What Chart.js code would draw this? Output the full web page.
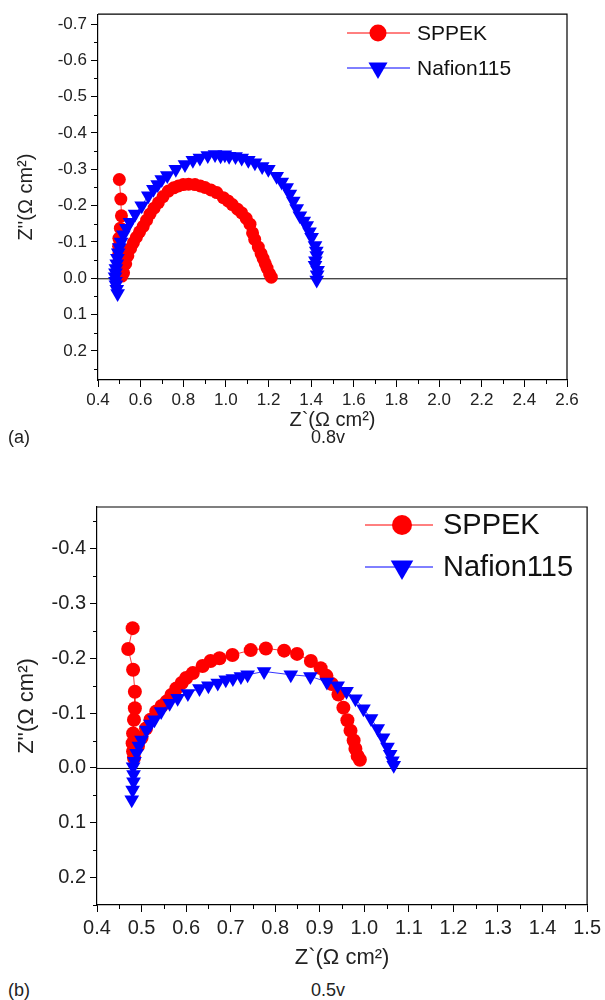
<!DOCTYPE html>
<html><head><meta charset="utf-8">
<script src="https://cdn.jsdelivr.net/npm/chart.js@4.4.0/dist/chart.umd.min.js"></script>
<style>
body{margin:0;width:605px;height:1000px;background:#fff;position:relative;overflow:hidden;font-family:"Liberation Sans",Arial,sans-serif;}
#wa{position:absolute;left:0;top:0;width:605px;height:432px;}
#wb{position:absolute;left:0;top:490px;width:605px;height:490px;}
.lbl{position:absolute;font-size:18px;color:#222;line-height:20px;}
</style></head><body>
<div id="wa"><canvas id="ca" width="605" height="432"></canvas></div>
<div id="wb"><canvas id="cb" width="605" height="490"></canvas></div>
<div class="lbl" style="left:8px;top:427px">(a)</div>
<div class="lbl" style="left:311px;top:427px">0.8v</div>
<div class="lbl" style="left:8px;top:980px">(b)</div>
<div class="lbl" style="left:311px;top:980px">0.5v</div>
<script>
// ---------- DATA ----------
const seriesNames = ["SPPEK", "Nafion115"];

// (a) 0.8v
const sppekA_x = [0.500,0.507,0.510,0.505,0.498,0.497,0.498,0.500,0.503,0.507,0.512,
  0.520,0.530,0.540,0.553,0.566,0.580,0.595,0.612,0.628,0.644,0.663,0.683,0.705,0.730,0.755,0.777,0.800,0.825,0.855,0.880,0.902,0.930,0.957,0.988,1.010,1.030,1.055,1.074,1.095,1.113,1.125,1.135,1.152,1.165,1.175,1.185,1.193,1.205,1.213];
const sppekA_y = [-0.272,-0.218,-0.172,-0.138,-0.110,-0.088,-0.068,-0.050,-0.033,-0.018,-0.006,
  -0.015,-0.040,-0.062,-0.082,-0.098,-0.113,-0.128,-0.143,-0.160,-0.177,-0.193,-0.208,-0.225,-0.240,-0.249,-0.254,-0.258,-0.259,-0.258,-0.254,-0.250,-0.243,-0.236,-0.222,-0.213,-0.203,-0.190,-0.180,-0.165,-0.149,-0.125,-0.107,-0.086,-0.068,-0.054,-0.040,-0.028,-0.012,-0.003];
const nafionA_x = [0.492,0.488,0.484,0.482,0.480,0.482,0.484,0.488,0.491,0.495,0.500,0.508,0.519,0.533,0.550,0.574,0.605,0.636,0.660,0.680,0.699,0.725,0.765,0.808,0.845,0.878,0.915,0.949,0.975,0.995,1.015,1.045,1.074,1.105,1.136,1.170,1.199,1.238,1.262,1.285,1.300,1.316,1.332,1.347,1.365,1.379,1.392,1.402,1.418,1.424,1.426,1.420,1.418,1.430,1.428,1.426];
const nafionA_y = [0.042,0.030,0.018,0.008,-0.004,-0.015,-0.027,-0.040,-0.055,-0.070,-0.085,-0.100,-0.120,-0.138,-0.154,-0.177,-0.200,-0.227,-0.245,-0.258,-0.272,-0.283,-0.300,-0.313,-0.325,-0.331,-0.338,-0.341,-0.337,-0.340,-0.336,-0.335,-0.331,-0.325,-0.318,-0.308,-0.300,-0.281,-0.265,-0.250,-0.232,-0.213,-0.192,-0.172,-0.158,-0.145,-0.128,-0.113,-0.090,-0.075,-0.063,-0.048,-0.036,-0.022,-0.010,0.005];
const xTicksA = [0.4,0.6,0.8,1.0,1.2,1.4,1.6,1.8,2.0,2.2,2.4,2.6];
const yTicksA = [-0.7,-0.6,-0.5,-0.4,-0.3,-0.2,-0.1,0.0,0.1,0.2];

// (b) 0.5v
const sppekB_x = [0.480,0.470,0.481,0.485,0.485,0.483,0.481,0.480,0.481,0.483,
  0.492,0.500,0.510,0.520,0.533,0.545,0.556,0.567,0.578,0.590,0.600,0.615,0.637,0.655,0.675,0.704,0.745,0.779,0.820,0.849,0.880,0.902,0.915,0.927,0.942,0.953,0.962,0.969,0.976,0.980,0.985,0.990];
const sppekB_y = [-0.255,-0.217,-0.179,-0.139,-0.109,-0.088,-0.063,-0.045,-0.030,-0.018,
  -0.040,-0.055,-0.072,-0.088,-0.103,-0.113,-0.121,-0.133,-0.145,-0.155,-0.164,-0.173,-0.186,-0.195,-0.200,-0.206,-0.215,-0.218,-0.214,-0.208,-0.195,-0.182,-0.168,-0.153,-0.134,-0.110,-0.087,-0.068,-0.050,-0.035,-0.022,-0.015];
const nafionB_x = [0.478,0.480,0.482,0.482,0.481,0.484,0.489,0.494,0.500,0.511,0.520,0.529,0.544,0.563,0.581,0.604,0.630,0.650,0.671,0.689,0.705,0.723,0.738,0.775,0.835,0.879,0.916,0.940,0.960,0.980,0.998,1.015,1.030,1.042,1.052,1.058,1.063,1.066];
const nafionB_y = [0.058,0.040,0.025,0.012,-0.002,-0.012,-0.027,-0.040,-0.051,-0.069,-0.080,-0.088,-0.103,-0.118,-0.127,-0.136,-0.145,-0.150,-0.155,-0.161,-0.163,-0.167,-0.170,-0.176,-0.170,-0.167,-0.157,-0.150,-0.140,-0.126,-0.108,-0.090,-0.072,-0.055,-0.038,-0.025,-0.013,-0.005];
const xTicksB = [0.4,0.5,0.6,0.7,0.8,0.9,1.0,1.1,1.2,1.3,1.4,1.5];
const yTicksB = [-0.4,-0.3,-0.2,-0.1,0.0,0.1,0.2];

const xTitle = "Z`(Ω cm²)";
const yTitle = "Z''(Ω cm²)";

// ---------- RENDER ----------
const RED = "#ff0000", BLUE = "#0000ff";
const FONT = "'Liberation Sans', Arial, sans-serif";
const pts = (xs, ys) => xs.map((x, i) => ({x: x, y: ys[i]}));

function minorList(a, b, step) {
  const out = [];
  const n = Math.round((b - a) / step);
  for (let i = 0; i <= n; i++) out.push(+(a + i * step).toFixed(4));
  return out;
}

const decorPlugin = {
  id: 'decor',
  beforeDatasetsDraw(chart) {
    const {ctx, chartArea: ca, scales: {y}} = chart;
    const py = y.getPixelForValue(0);
    ctx.save();
    ctx.strokeStyle = '#000'; ctx.lineWidth = 1;
    ctx.beginPath(); ctx.moveTo(ca.left, py + 0.5); ctx.lineTo(ca.right, py + 0.5); ctx.stroke();
    ctx.restore();
  },
  afterDraw(chart, args, o) {
    const {ctx, chartArea: ca, scales: {x, y}} = chart;
    ctx.save();
    ctx.strokeStyle = '#000'; ctx.lineWidth = 1.2;
    ctx.beginPath();
    ctx.moveTo(ca.left, ca.top); ctx.lineTo(ca.right, ca.top); ctx.lineTo(ca.right, ca.bottom);
    ctx.stroke();
    ctx.lineWidth = 1;
    ctx.beginPath();
    o.xMinor.forEach(v => { const p = Math.round(x.getPixelForValue(v)) + 0.5; ctx.moveTo(p, ca.bottom); ctx.lineTo(p, ca.bottom + 4); });
    o.yMinor.forEach(v => { const p = Math.round(y.getPixelForValue(v)) + 0.5; ctx.moveTo(ca.left - 4, p); ctx.lineTo(ca.left, p); });
    ctx.stroke();
    // legend
    const lg = o.legend;
    chart.data.datasets.forEach((ds, i) => {
      const yy = lg.ys[i];
      ctx.strokeStyle = ds.borderColor; ctx.lineWidth = 1;
      ctx.beginPath(); ctx.moveTo(lg.x0, yy); ctx.lineTo(lg.x1, yy); ctx.stroke();
      ctx.fillStyle = ds.backgroundColor; ctx.strokeStyle = ds.backgroundColor;
      Chart.helpers.drawPoint(ctx, {pointStyle: ds.pointStyle, rotation: ds.pointRotation || 0, radius: lg.r[i], borderWidth: 0}, lg.xm, yy);
      ctx.fillStyle = '#111';
      ctx.font = lg.size + 'px ' + FONT;
      ctx.textBaseline = 'middle'; ctx.textAlign = 'left';
      ctx.fillText(ds.label, lg.xt, yy + 1);
    });
    ctx.restore();
  }
};

function makeChart(id, c) {
  const datasets = [
    {label: seriesNames[0], data: pts(c.sx, c.sy), borderColor: RED, backgroundColor: RED,
     pointStyle: 'circle', pointRadius: c.rc, pointBorderWidth: 0, borderWidth: 0.8, showLine: true, order: 1},
    {label: seriesNames[1], data: pts(c.nx, c.ny), borderColor: BLUE, backgroundColor: BLUE,
     pointStyle: 'triangle', pointRotation: 180, pointRadius: c.rt, pointBorderWidth: 0, borderWidth: 0.8, showLine: true, order: 0}
  ];
  return new Chart(document.getElementById(id), {
    type: 'scatter',
    data: {datasets},
    plugins: [decorPlugin],
    options: {
      responsive: false, animation: false, devicePixelRatio: 1,
      layout: {padding: c.pad},
      plugins: {legend: {display: false}, tooltip: {enabled: false},
        decor: {xMinor: c.xMinor, yMinor: c.yMinor, legend: c.legend}},
      scales: {
        x: {type: 'linear', min: c.xMin, max: c.xMax,
            afterBuildTicks: s => { s.ticks = c.xTicks.map(v => ({value: v})); },
            afterFit: s => { s.height = c.xH; },
            ticks: {callback: v => Number(v).toFixed(1), color: '#222', font: {family: FONT, size: c.tick}, padding: c.xTickPad, maxRotation: 0, autoSkip: false},
            grid: {drawOnChartArea: false, drawTicks: true, tickLength: 7, tickColor: '#000', lineWidth: 1},
            border: {display: true, color: '#000', width: 1.2},
            title: {display: true, text: xTitle, color: '#222', font: {family: FONT, size: c.title}, padding: {top: 0, bottom: c.xTitlePad}}},
        y: {type: 'linear', min: c.yMin, max: c.yMax, reverse: true,
            afterBuildTicks: s => { s.ticks = c.yTicks.map(v => ({value: v})); },
            afterFit: s => { s.width = c.yW; },
            ticks: {callback: v => Number(v).toFixed(1), color: '#222', font: {family: FONT, size: c.tick}, padding: 4, autoSkip: false},
            grid: {drawOnChartArea: false, drawTicks: true, tickLength: 7, tickColor: '#000', lineWidth: 1},
            border: {display: true, color: '#000', width: 1.2},
            title: {display: true, text: yTitle, color: '#222', font: {family: FONT, size: c.title}, padding: {top: c.yTitlePad, bottom: 0}}}
      }
    }
  });
}

makeChart('ca', {
  sx: sppekA_x, sy: sppekA_y, nx: nafionA_x, ny: nafionA_y,
  xTicks: xTicksA, yTicks: yTicksA, xMin: 0.4, xMax: 2.6, yMin: -0.727, yMax: 0.28,
  xMinor: minorList(0.5, 2.5, 0.2), yMinor: minorList(-0.65, 0.25, 0.1),
  pad: {top: 12, right: 38, left: 0, bottom: 0}, yW: 98, xH: 52,
  tick: 17, title: 20, xTickPad: 3, xTitlePad: 0, yTitlePad: 14,
  rc: 6.5, rt: 8.5,
  legend: {x0: 347, x1: 410, xm: 378, xt: 417, ys: [33, 68], r: [8.5, 11], size: 21}
});

makeChart('cb', {
  sx: sppekB_x, sy: sppekB_y, nx: nafionB_x, ny: nafionB_y,
  xTicks: xTicksB, yTicks: yTicksB, xMin: 0.4, xMax: 1.5, yMin: -0.476, yMax: 0.25,
  xMinor: minorList(0.45, 1.45, 0.1), yMinor: minorList(-0.45, 0.25, 0.1),
  pad: {top: 17, right: 15, left: 0, bottom: 0}, yW: 97, xH: 75,
  tick: 20, title: 22, xTickPad: 4, xTitlePad: 9, yTitlePad: 14,
  rc: 7, rt: 8.5,
  legend: {x0: 365, x1: 433, xm: 402, xt: 443, ys: [35, 77], r: [10, 13], size: 29}
});
</script>
</body></html>
